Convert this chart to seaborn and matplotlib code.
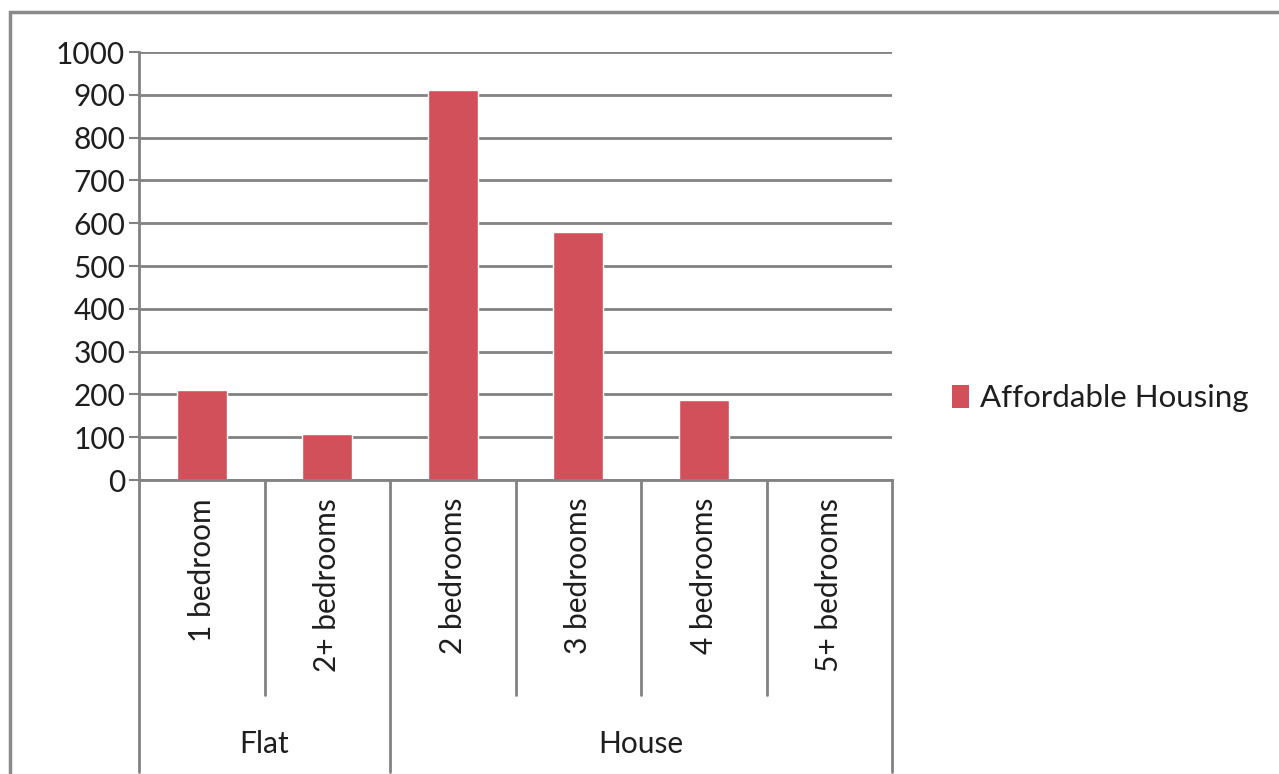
import matplotlib
matplotlib.use("Agg")
import matplotlib.pyplot as plt
import matplotlib.transforms as mtransforms
from matplotlib.patches import Rectangle, Patch
import seaborn as sns
import pandas as pd

# Chart data
groups = ["Flat", "Flat", "House", "House", "House", "House"]
bedrooms = ["1 bedroom", "2+ bedrooms", "2 bedrooms", "3 bedrooms", "4 bedrooms", "5+ bedrooms"]
affordable = [210, 107, 911, 579, 187, 0]
series_name = "Affordable Housing"
yticks = list(range(0, 1001, 100))

df = pd.DataFrame({"group": groups, "bedrooms": bedrooms, "value": affordable})

sns.set_style("white")
plt.rcParams["font.family"] = ["Lato", "DejaVu Sans"]

bar_color = "#D2505A"
grid_color = "#828282"
text_color = "#1e1e1e"
fs = 21.5

fig = plt.figure(figsize=(12.79, 7.74), dpi=100)
ax = fig.add_axes([139 / 1279, 1 - 480 / 774, (892 - 139) / 1279, (480 - 52) / 774])

sns.barplot(data=df, x="bedrooms", y="value", color=bar_color, width=0.4,
            saturation=1, ax=ax)

ax.set_ylim(0, 1000)
ax.set_xlim(-0.5, len(bedrooms) - 0.5)
ax.set_yticks(yticks)
ax.set_yticklabels([str(t) for t in yticks], fontsize=fs, color=text_color)
ax.set_xticks([])
ax.set_xlabel("")
ax.set_ylabel("")
ax.yaxis.grid(True, color=grid_color, linewidth=2)
ax.set_axisbelow(True)
ax.tick_params(axis="y", direction="out", length=7, width=1.5, color=grid_color,
               left=True, pad=3)
for side in ["top", "right"]:
    ax.spines[side].set_visible(False)
ax.spines["left"].set_color(grid_color)
ax.spines["left"].set_linewidth(2)
ax.spines["bottom"].set_color(grid_color)
ax.spines["bottom"].set_linewidth(2)

# Multi-level category axis
trans = mtransforms.blended_transform_factory(ax.transData, ax.transAxes)
inner_bottom = -(695 - 480) / 428
outer_bottom = -(772 - 480) / 428
group_edges = [-0.5]
for i in range(1, len(groups)):
    if groups[i] != groups[i - 1]:
        group_edges.append(i - 0.5)
group_edges.append(len(groups) - 0.5)

for i in range(len(bedrooms) + 1):
    xpos = i - 0.5
    bottom = outer_bottom if xpos in group_edges else inner_bottom
    ax.plot([xpos, xpos], [0, bottom], transform=trans, color=grid_color,
            linewidth=2, clip_on=False)

for i, label in enumerate(bedrooms):
    ax.text(i, -(498 - 480) / 428, label, transform=trans, rotation=90,
            ha="center", va="top", fontsize=fs, color=text_color)

for g0, g1 in zip(group_edges[:-1], group_edges[1:]):
    name = groups[int(g0 + 0.5)]
    ax.text((g0 + g1) / 2, -(744 - 480) / 428, name, transform=trans,
            ha="center", va="center", fontsize=fs, color=text_color)

# Legend
handle = Patch(facecolor=bar_color, edgecolor="none", label=series_name)
fig.legend(handles=[handle], loc="center left", bbox_to_anchor=(924 / 1279, 1 - 398 / 774),
           frameon=False, fontsize=fs + 1, handlelength=0.55, handleheight=0.75,
           handletextpad=0.35, labelcolor=text_color)

# Outer chart border
fig.patches.append(Rectangle((10 / 1279, -0.05), 1.1, 1 - 12 / 774 + 0.05,
                             transform=fig.transFigure, fill=False,
                             edgecolor="#8a8a8a", linewidth=2.5))

fig.savefig("out.png", dpi=100)
